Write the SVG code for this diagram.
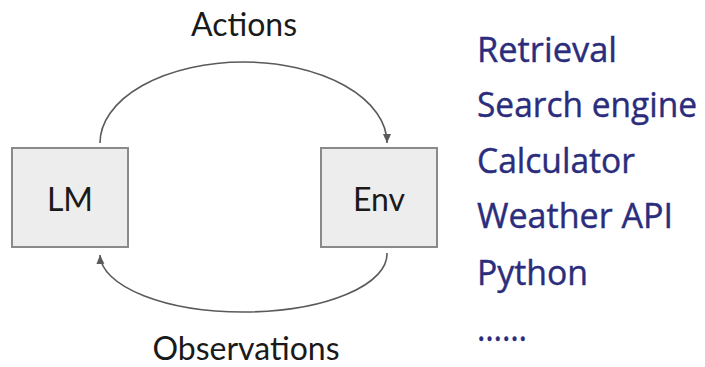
<svg xmlns="http://www.w3.org/2000/svg" width="705" height="367" viewBox="0 0 705 367">
  <style>
    .box { fill: #ededed; stroke: #8a8a8a; stroke-width: 2; }
    .lbl { font-family: Lato, "Open Sans", "DejaVu Sans", sans-serif; font-size: 32px; fill: #1a1a1a; text-anchor: middle; }
    .tool { font-family: "Open Sans", "Noto Sans", "Liberation Sans", sans-serif; font-size: 34px; fill: #2b2d7c; stroke: #2b2d7c; stroke-width: 0.4; }
    .link { fill: none; stroke: #5a5a5a; stroke-width: 1.6; marker-end: url(#head); }
  </style>
  <defs>
    <marker id="head" markerUnits="userSpaceOnUse" markerWidth="10" markerHeight="10" viewBox="0 0 10 10" refX="9" refY="5" orient="auto">
      <path d="M0,1 L9,5 L0,9 Z" fill="#5a5a5a"/>
    </marker>
  </defs>
  <rect width="705" height="367" fill="#ffffff"/>

  <!-- loop arrows between the model and its environment -->
  <g id="connectors">
    <path class="link" d="M100,143 A143.5 81 0 0 1 387,143"/>
    <path class="link" d="M387,253 A143.5 58 0 0 1 100,255"/>
  </g>

  <g id="lm">
    <rect class="box" x="12" y="148" width="116" height="99"/>
    <text class="lbl" x="70" y="211">LM</text>
  </g>

  <g id="env">
    <rect class="box" x="321" y="148" width="116" height="99"/>
    <text class="lbl" x="379" y="211">Env</text>
  </g>

  <g id="labels">
    <text class="lbl" x="244" y="36">Actions</text>
    <text class="lbl" x="246" y="360">Observations</text>
  </g>

  <!-- examples of environments -->
  <g id="tools">
    <text class="tool" x="477" y="62" textLength="140" lengthAdjust="spacingAndGlyphs">Retrieval</text>
    <text class="tool" x="477" y="117" textLength="220" lengthAdjust="spacingAndGlyphs" font-size="33">Search engine</text>
    <text class="tool" x="477" y="173" textLength="158" lengthAdjust="spacingAndGlyphs">Calculator</text>
    <text class="tool" x="477" y="228" textLength="196" lengthAdjust="spacingAndGlyphs">Weather API</text>
    <text class="tool" x="477" y="285" textLength="111" lengthAdjust="spacingAndGlyphs">Python</text>
    <text class="tool" x="477" y="341" textLength="50" lengthAdjust="spacingAndGlyphs">……</text>
  </g>
</svg>
